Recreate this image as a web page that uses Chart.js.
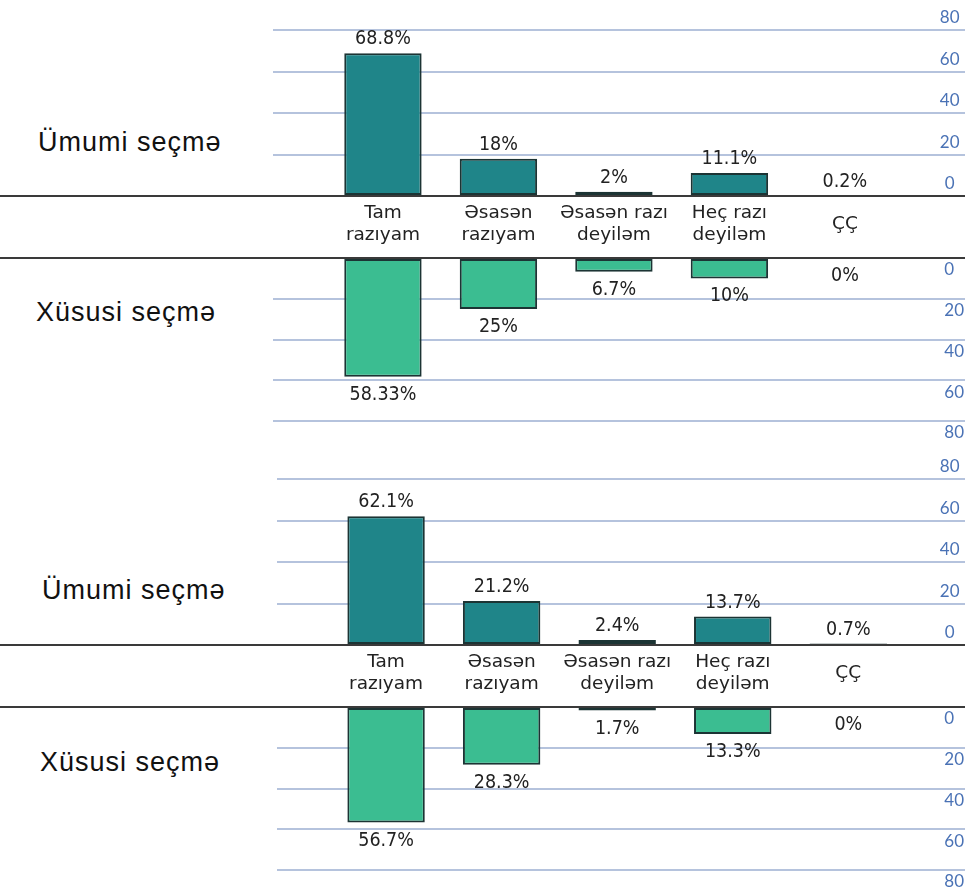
<!DOCTYPE html>
<html>
<head>
<meta charset="utf-8">
<script src="https://cdn.jsdelivr.net/npm/chart.js@4"></script>
<style>
  html, body { margin: 0; padding: 0; background: #fff; }
  body { width: 965px; height: 888px; position: relative; overflow: hidden; }
  canvas { position: absolute; left: 0; }
  .side { position: absolute; font-family: "Liberation Sans", Arial, sans-serif; font-size: 27px; letter-spacing: 1px; color: #111; white-space: nowrap; line-height: 1; }
</style>
</head>
<body>
<div class="side" style="left:38px; top:129px;">Ümumi seçmə</div>
<div class="side" style="left:36px; top:299px;">Xüsusi seçmə</div>
<div class="side" style="left:42px; top:577px;">Ümumi seçmə</div>
<div class="side" style="left:40px; top:749px;">Xüsusi seçmə</div>

<canvas id="genA" width="965" height="258" style="top:0px"></canvas>
<canvas id="specA" width="965" height="192" style="top:256px"></canvas>
<canvas id="genB" width="965" height="259" style="top:448px"></canvas>
<canvas id="specB" width="965" height="183" style="top:705px"></canvas>

<script>
// Answer categories (multi-line labels) and percentages per sample
const categories = [['Tam', 'razıyam'], ['Əsasən', 'razıyam'], ['Əsasən razı', 'deyiləm'], ['Heç razı', 'deyiləm'], ['ÇÇ']];
const generalA = [68.8, 18, 2, 11.1, 0.2];
const specialA = [58.33, 25, 6.7, 10, 0];
const generalB = [62.1, 21.2, 2.4, 13.7, 0.7];
const specialB = [56.7, 28.3, 1.7, 13.3, 0];
const yTicks = [0, 20, 40, 60, 80];

const TEAL = '#1f8589';
const GREEN = '#3bbd91';
const EDGE = '#1c3434';
const GRID = '#b5c3dd';
const TICK = '#4a72b5';
const CAT_FONT = '"DejaVu Sans", Verdana, sans-serif';
const VALUE_FONT = '"DejaVu Sans Condensed", "DejaVu Sans", sans-serif';

// Full-width dark rule along the zero value of the y scale
const zeroRule = {
  id: 'zeroRule',
  afterDraw(chart) {
    const y = Math.round(chart.scales.y.getPixelForValue(0));
    const ctx = chart.ctx;
    ctx.save();
    ctx.strokeStyle = '#3a3a3a';
    ctx.lineWidth = 2;
    ctx.beginPath();
    ctx.moveTo(0, y);
    ctx.lineTo(chart.width, y);
    ctx.stroke();
    ctx.restore();
  }
};

// Percentage text beyond the end of each bar
const valueLabels = {
  id: 'valueLabels',
  afterDatasetsDraw(chart) {
    const ctx = chart.ctx;
    const down = chart.options.scales.y.reverse;
    const values = chart.data.datasets[0].data.map(p => p.y);
    const meta = chart.getDatasetMeta(0);
    ctx.save();
    ctx.font = '19.5px ' + VALUE_FONT;
    ctx.fillStyle = '#222';
    ctx.textAlign = 'center';
    ctx.textBaseline = 'middle';
    meta.data.forEach((bar, i) => {
      const y = down ? bar.y + 18 : bar.y - 14;
      ctx.fillText(values[i] + '%', bar.x, y);
    });
    ctx.restore();
  }
};

function makeChart(id, values, cfg) {
  const points = values.map((v, i) => ({ x: i, y: v }));
  return new Chart(document.getElementById(id), {
    type: 'bar',
    data: {
      datasets: [{
        data: points,
        backgroundColor: cfg.color,
        borderColor: EDGE,
        borderWidth: 2,
        borderSkipped: false,
        barPercentage: 0.67,
        categoryPercentage: 1
      }]
    },
    options: {
      responsive: false,
      animation: false,
      events: [],
      layout: { padding: cfg.padding },
      plugins: { legend: { display: false }, tooltip: { enabled: false }, title: { display: false } },
      scales: {
        x: {
          type: 'linear',
          offset: false,
          min: cfg.xMin,
          max: cfg.xMax,
          display: cfg.showCategories,
          grid: { display: false, offset: false },
          border: { display: false },
          afterBuildTicks(scale) { scale.ticks = categories.map((_, i) => ({ value: i })); },
          afterFit(scale) {
            scale.height = cfg.showCategories ? 62 : 0;
            scale.paddingLeft = 0; scale.paddingRight = 0;
          },
          ticks: {
            autoSkip: false,
            maxRotation: 0,
            minRotation: 0,
            padding: 9,
            crossAlign: 'center',
            color: '#222',
            font: { family: CAT_FONT, size: 18.5, lineHeight: 1.19 },
            callback: (v) => categories[v]
          }
        },
        y: {
          position: 'right',
          reverse: cfg.reverse,
          min: 0,
          max: 80,
          afterBuildTicks(scale) { scale.ticks = yTicks.map(v => ({ value: v })); },
          afterFit(scale) {
            scale.width = 0;
            scale.paddingTop = 0; scale.paddingBottom = 0;
          },
          border: { display: false },
          grid: {
            drawTicks: false,
            lineWidth: 2,
            color: (c) => c.tick && c.tick.value === 0 ? 'rgba(0,0,0,0)' : GRID
          },
          ticks: {
            mirror: true,
            crossAlign: cfg.reverse ? 'far' : 'center',
            padding: cfg.reverse ? -1 : -5.5,
            labelOffset: cfg.reverse ? 12 : -12,
            color: TICK,
            font: { family: 'Lato, "Open Sans", sans-serif', size: 17 }
          }
        }
      }
    },
    plugins: [zeroRule, valueLabels]
  });
}

makeChart('genA', generalA, { color: TEAL, reverse: false, showCategories: true,
  padding: { top: 30, left: 273, right: 0, bottom: 0 }, xMin: -0.952, xMax: 5.04 });
makeChart('specA', specialA, { color: GREEN, reverse: true, showCategories: false,
  padding: { top: 2, left: 273, right: 0, bottom: 27 }, xMin: -0.952, xMax: 5.04 });
makeChart('genB', generalB, { color: TEAL, reverse: false, showCategories: true,
  padding: { top: 31, left: 277, right: 0, bottom: 0 }, xMin: -0.944, xMax: 5.01 });
makeChart('specB', specialB, { color: GREEN, reverse: true, showCategories: false,
  padding: { top: 2, left: 277, right: 0, bottom: 18 }, xMin: -0.944, xMax: 5.01 });
</script>
</body>
</html>
